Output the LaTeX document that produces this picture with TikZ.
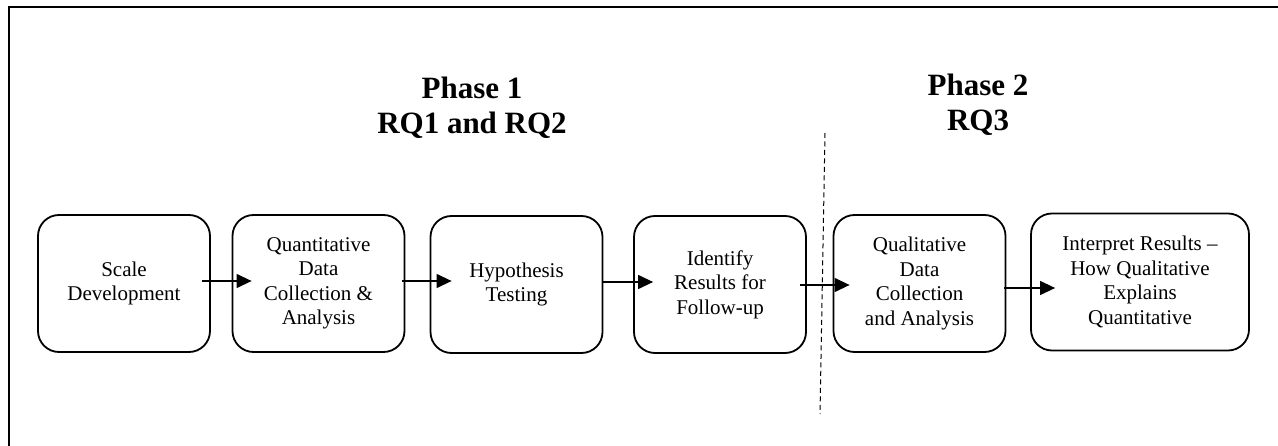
\documentclass[tikz,border=0pt]{standalone}
\usepackage{fontspec}
\setmainfont{Liberation Serif}
\usetikzlibrary{arrows.meta,calc}

\tikzset{
  stage/.style={draw, line width=1.8pt, rounded corners=21pt, align=center,
    minimum width=172pt, minimum height=137pt, inner sep=2pt,
    font=\fontsize{21}{24.5}\selectfont},
  phasetitle/.style={align=center, inner sep=0pt,
    font=\fontsize{31}{35}\selectfont\bfseries},
  flow/.style={line width=1.3pt, -{Triangle[length=15pt,width=14pt]}},
  divider/.style={line width=1pt, dash pattern=on 5pt off 3.5pt},
  frame/.style={line width=2pt}
}

\begin{document}
\begin{tikzpicture}[x=1pt,y=-1pt]
  \useasboundingbox (0,0) rectangle (1278,446);

  % outer frame (top and left edges)
  \draw[frame] (9,446) -- (9,7.3) -- (1278,7.3);

  % phase headings
  \node[phasetitle] (p1) at (472,108) {Phase 1\\RQ1 and RQ2};
  \node[phasetitle] (p2) at (978,105) {Phase 2\\RQ3};

  % divider between the two phases
  \draw[divider] (825,133) -- (820,414);

  % stages
  \node[stage] (s1) at (124,283.5) {Scale\\Development};
  \node[stage] (s2) at (318.5,283.5) {Quantitative\\Data\\Collection \&\\Analysis};
  \node[stage] (s3) at (516.5,284.5) {Hypothesis\\Testing};
  \node[stage] (s4) at (720,284.5) {Identify\\Results for\\Follow-up};
  \node[stage] (s5) at (919.5,283.5) {Qualitative\\Data\\Collection\\and Analysis};
  \node[stage, minimum width=218pt] (s6) at (1140,282)
    {Interpret Results --\\How Qualitative\\Explains\\Quantitative};

  % flow between stages
  \draw[flow] ($(s1.east)+(-9,-2.5)$) -- ($(s2.west)+(20,-2.5)$);
  \draw[flow] ($(s2.east)+(-3,-2.5)$) -- ($(s3.west)+(22,-3.5)$);
  \draw[flow] ($(s3.east)+(0,-2.5)$) -- ($(s4.west)+(20,-2.5)$);
  \draw[flow] ($(s4.east)+(-7,0.5)$) -- ($(s5.west)+(17,1.5)$);
  \draw[flow] ($(s5.east)+(-2,4.5)$) -- ($(s6.west)+(25,6)$);
\end{tikzpicture}
\end{document}
